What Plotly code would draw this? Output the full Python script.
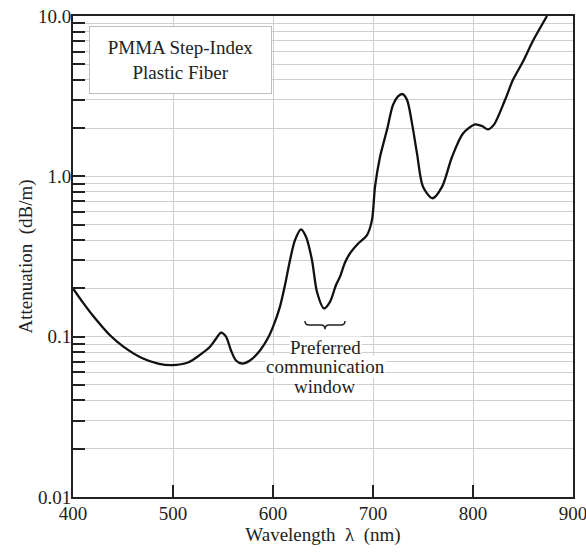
import plotly.graph_objects as go

# Data
wavelength_nm = [400, 410, 420, 437, 450, 470, 485, 499, 515, 527, 537, 543, 548, 553, 558,
                 563, 569, 577, 587, 595, 600, 607, 612, 617, 622, 628, 633, 639, 644, 651,
                 657, 663, 667, 672, 677, 685, 694, 699, 702, 707, 714, 720, 725, 729.5, 734,
                 739, 744, 750, 759.5, 769, 779, 790, 802, 809, 815, 821, 832, 840, 850, 860, 874]
attenuation_db_m = [0.2, 0.163, 0.135, 0.102, 0.087, 0.073, 0.068, 0.0665, 0.069, 0.077, 0.0865,
                    0.097, 0.106, 0.100, 0.082, 0.071, 0.068, 0.071, 0.082, 0.098, 0.115, 0.154,
                    0.21, 0.30, 0.40, 0.467, 0.42, 0.30, 0.19, 0.150, 0.165, 0.21, 0.237, 0.29,
                    0.331, 0.38, 0.43, 0.535, 0.86, 1.32, 1.95, 2.79, 3.15, 3.26, 3.0,
                    2.14, 1.39, 0.86, 0.73, 0.86, 1.32, 1.85, 2.11, 2.06, 1.96, 2.1, 2.99,
                    4.0, 5.2, 7.0, 10.0]

x_ticks = [400, 500, 600, 700, 800, 900]
y_ticks = [0.01, 0.02, 0.03, 0.04, 0.05, 0.06, 0.07, 0.08, 0.09,
           0.1, 0.2, 0.3, 0.4, 0.5, 0.6, 0.7, 0.8, 0.9,
           1.0, 2, 3, 4, 5, 6, 7, 8, 9, 10.0]
y_tick_text = ["0.01"] + [""] * 8 + ["0.1"] + [""] * 8 + ["1.0"] + [""] * 8 + ["10.0"]

window_nm = [632, 672]
box_text = "PMMA Step-Index<br>Plastic Fiber"
window_lines = ["Preferred", "communication", "window"]

FONT = "Liberation Serif"
TXT = "#222222"
FS = 19

fig = go.Figure()
fig.add_trace(go.Scatter(
    x=wavelength_nm, y=attenuation_db_m, mode="lines",
    line=dict(color="#111111", width=2.3, shape="spline", smoothing=0.8),
    showlegend=False, hoverinfo="skip"))

axis_common = dict(
    ticks="inside", ticklen=12, tickwidth=2, tickcolor="#222",
    showline=True, linecolor="#222", linewidth=2, mirror=True,
    showgrid=True, gridcolor="#cfcfcf", gridwidth=1, zeroline=False,
    automargin=False, ticklabeloverflow="allow",
    tickfont=dict(family=FONT, size=FS, color=TXT),
)

fig.update_layout(
    width=586, height=553,
    margin=dict(l=73, r=13, t=16, b=56),
    paper_bgcolor="white", plot_bgcolor="white",
    font=dict(family=FONT, size=FS, color=TXT),
    xaxis=dict(range=[400, 900], tickvals=x_ticks, ticklabelstandoff=-2,
               title=dict(text="Wavelength  λ  (nm)", font=dict(family=FONT, size=FS, color=TXT), standoff=5),
               **axis_common),
    yaxis=dict(type="log", range=[-2, 1], tickvals=y_ticks, ticktext=y_tick_text,
               ticklabelstandoff=-4,
               title=dict(text="Attenuation  (dB/m)", font=dict(family=FONT, size=FS, color=TXT), standoff=0),
               **axis_common),
)

# Label box
fig.add_annotation(
    xref="paper", yref="paper", x=0.214, y=0.9085, xanchor="center", yanchor="middle",
    text=box_text, showarrow=False, align="center",
    font=dict(family=FONT, size=FS, color=TXT),
    bgcolor="white", bordercolor="#bdbdbd", borderwidth=1, borderpad=0,
    width=181, height=66)

# Brace marking the preferred window
x0, x1 = window_nm
xm = (x0 + x1) / 2
yt, ym, yb = 0.366, 0.3576, 0.349
path = (f"M {x0},{yt} Q {x0},{ym} {x0+4},{ym} L {xm-4},{ym} Q {xm},{ym} {xm},{yb} "
        f"Q {xm},{ym} {xm+4},{ym} L {x1-4},{ym} Q {x1},{ym} {x1},{yt}")
fig.add_shape(type="path", xref="x", yref="paper", path=path,
              line=dict(color="#222", width=1.5))

for i, line in enumerate(window_lines):
    fig.add_annotation(
        xref="x", yref="paper", x=xm, y=0.311 - i * 0.0405,
        xanchor="center", yanchor="middle", text=line, showarrow=False,
        font=dict(family=FONT, size=FS, color=TXT), bgcolor="white", borderpad=0)

# remove the default 8px page margin so the figure sits at the window corner
fig.write_html("out.html", config={"displayModeBar": False},
               post_script="document.body.style.margin='0';")
